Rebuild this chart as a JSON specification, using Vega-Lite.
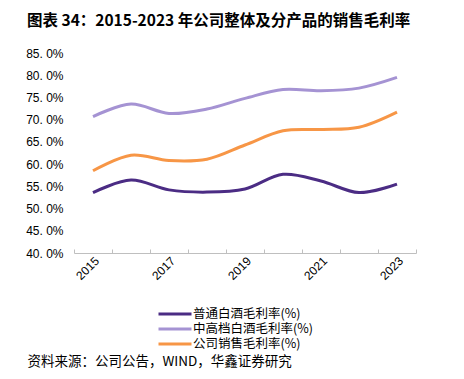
{
  "$schema": "https://vega.github.io/schema/vega-lite/v6.json",
  "width": 342,
  "height": 200,
  "autosize": {"type": "none"},
  "padding": {"left": 74, "top": 53, "right": 48, "bottom": 126},
  "background": "white",
  "title": {
    "text": "图表 34：2015-2023 年公司整体及分产品的销售毛利率",
    "anchor": "start",
    "frame": "group",
    "dx": -47,
    "offset": 18,
    "font": "Noto Sans CJK SC",
    "fontSize": 15.5,
    "fontWeight": "bold",
    "color": "#000000"
  },
  "config": {
    "view": {"stroke": null},
    "font": "Liberation Sans"
  },
  "data": {
    "values": [
      {"year": "2015", "series": "普通白酒毛利率(%)", "value": 53.6},
      {"year": "2016", "series": "普通白酒毛利率(%)", "value": 56.4},
      {"year": "2017", "series": "普通白酒毛利率(%)", "value": 54.2},
      {"year": "2018", "series": "普通白酒毛利率(%)", "value": 53.7},
      {"year": "2019", "series": "普通白酒毛利率(%)", "value": 54.4},
      {"year": "2020", "series": "普通白酒毛利率(%)", "value": 57.7},
      {"year": "2021", "series": "普通白酒毛利率(%)", "value": 56.2},
      {"year": "2022", "series": "普通白酒毛利率(%)", "value": 53.6},
      {"year": "2023", "series": "普通白酒毛利率(%)", "value": 55.5},
      {"year": "2015", "series": "中高档白酒毛利率(%)", "value": 70.7},
      {"year": "2016", "series": "中高档白酒毛利率(%)", "value": 73.5},
      {"year": "2017", "series": "中高档白酒毛利率(%)", "value": 71.4},
      {"year": "2018", "series": "中高档白酒毛利率(%)", "value": 72.4},
      {"year": "2019", "series": "中高档白酒毛利率(%)", "value": 74.8},
      {"year": "2020", "series": "中高档白酒毛利率(%)", "value": 76.8},
      {"year": "2021", "series": "中高档白酒毛利率(%)", "value": 76.5},
      {"year": "2022", "series": "中高档白酒毛利率(%)", "value": 77.1},
      {"year": "2023", "series": "中高档白酒毛利率(%)", "value": 79.5},
      {"year": "2015", "series": "公司销售毛利率(%)", "value": 58.5},
      {"year": "2016", "series": "公司销售毛利率(%)", "value": 62.0},
      {"year": "2017", "series": "公司销售毛利率(%)", "value": 60.8},
      {"year": "2018", "series": "公司销售毛利率(%)", "value": 61.1},
      {"year": "2019", "series": "公司销售毛利率(%)", "value": 64.3},
      {"year": "2020", "series": "公司销售毛利率(%)", "value": 67.5},
      {"year": "2021", "series": "公司销售毛利率(%)", "value": 67.8},
      {"year": "2022", "series": "公司销售毛利率(%)", "value": 68.3},
      {"year": "2023", "series": "公司销售毛利率(%)", "value": 71.7}
    ]
  },
  "mark": {"type": "line", "interpolate": "catmull-rom", "strokeWidth": 3},
  "encoding": {
    "x": {
      "field": "year",
      "type": "ordinal",
      "scale": {"paddingInner": 0, "paddingOuter": 0},
      "axis": {
        "title": "资料来源：公司公告，WIND，华鑫证券研究",
        "titleFont": "Noto Sans CJK SC",
        "titleFontSize": 13.5,
        "titleFontWeight": "normal",
        "titleColor": "#000000",
        "titleX": -47,
        "titleY": 108,
        "titleAlign": "left",
        "titleBaseline": "middle",
        "titleAnchor": null,
        "tickBand": "extent",
        "tickSize": -4,
        "tickColor": "#bfbfbf",
        "domainColor": "#bfbfbf",
        "labelAngle": -45,
        "labelFontSize": 12,
        "labelColor": "#000000",
        "labelPadding": 6,
        "labelExpr": "(+datum.value) % 2 == 1 ? datum.value : ''"
      }
    },
    "y": {
      "field": "value",
      "type": "quantitative",
      "scale": {"domain": [40, 85], "nice": false, "zero": false},
      "axis": {
        "title": null,
        "values": [40, 45, 50, 55, 60, 65, 70, 75, 80, 85],
        "labelExpr": "replace(format(datum.value, '.1f'), '.', '. ') + '%'",
        "domain": false,
        "ticks": false,
        "grid": false,
        "labelFontSize": 12,
        "labelColor": "#000000",
        "labelPadding": 11
      }
    },
    "color": {
      "field": "series",
      "type": "nominal",
      "scale": {
        "domain": ["普通白酒毛利率(%)", "中高档白酒毛利率(%)", "公司销售毛利率(%)"],
        "range": ["#4b2c84", "#a593d3", "#f79646"]
      },
      "legend": {
        "title": null,
        "orient": "none",
        "legendX": 94,
        "legendY": 254,
        "direction": "vertical",
        "symbolType": "M-3,0H3",
        "symbolSize": 121,
        "symbolStrokeWidth": 3,
        "labelFont": "Noto Sans CJK SC",
        "labelFontSize": 12.5,
        "labelColor": "#000000",
        "labelOffset": 11,
        "rowPadding": 1
      }
    }
  }
}
